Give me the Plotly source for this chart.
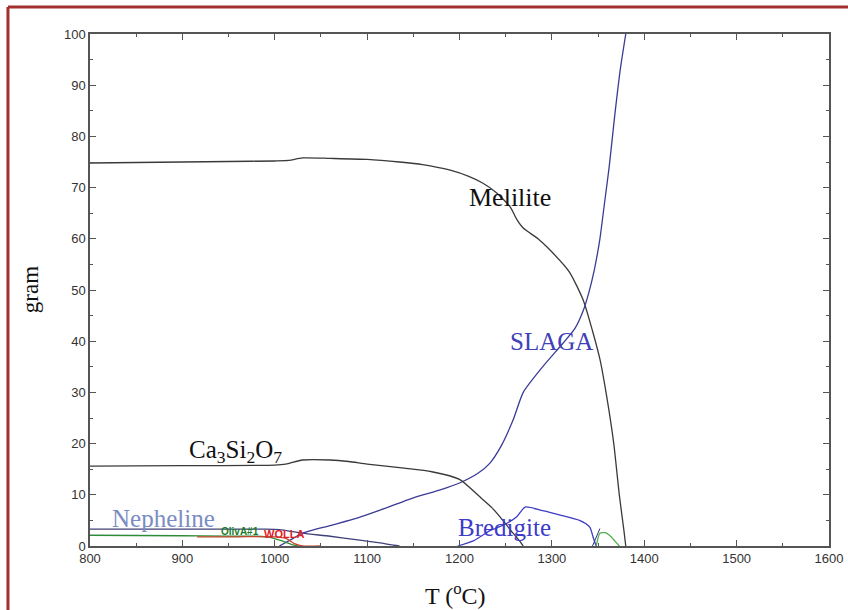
import plotly.graph_objects as go

# Phase amounts (gram) versus temperature (°C)
melilite_T = [800, 850, 900, 950, 1000, 1015, 1030, 1060, 1100, 1135, 1160, 1190, 1210, 1225,
              1240, 1255, 1262, 1269, 1285, 1298, 1319, 1334, 1344, 1352, 1360, 1367, 1373, 1378, 1380]
melilite_g = [74.8, 74.9, 75.0, 75.1, 75.2, 75.3, 75.8, 75.7, 75.5, 75.0, 74.5, 73.4, 72.2, 70.9,
              69.0, 66.2, 63.8, 62.1, 60.0, 57.8, 53.5, 48.0, 42.0, 36.5, 28.5, 20.0, 10.0, 3.0, 0.0]

slaga_T = [1005, 1020, 1030, 1060, 1090, 1114, 1150, 1180, 1200, 1220, 1233, 1245, 1258, 1269,
           1290, 1312, 1325, 1334, 1340, 1346, 1352, 1357, 1362, 1368, 1374, 1380]
slaga_g = [0.0, 1.5, 2.5, 4.0, 5.5, 7.0, 9.4, 11.0, 12.3, 14.2, 16.2, 19.5, 24.6, 30.0,
           35.0, 39.6, 42.5, 46.0, 49.5, 54.0, 60.0, 67.0, 74.0, 84.0, 93.0, 100.0]

ca3si2o7_T = [800, 900, 1000, 1012, 1030, 1060, 1080, 1100, 1140, 1170, 1200, 1222, 1235, 1247, 1258, 1265, 1269]
ca3si2o7_g = [15.6, 15.7, 15.8, 16.0, 16.8, 16.8, 16.5, 16.0, 15.2, 14.5, 13.0, 9.6, 7.5, 5.0, 2.5, 1.0, 0.0]

bredigite_T = [1198, 1215, 1233, 1250, 1262, 1271, 1290, 1310, 1330, 1341, 1345, 1348]
bredigite_g = [0.0, 1.0, 3.0, 4.3, 5.7, 7.6, 6.9, 6.0, 5.0, 3.7, 1.5, 0.0]

nepheline_T = [800, 900, 990, 1005, 1030, 1060, 1090, 1114, 1125, 1135]
nepheline_g = [3.3, 3.3, 3.3, 3.2, 2.5, 1.9, 1.2, 0.6, 0.25, 0.0]

olivine_T = [800, 900, 980, 995, 1008, 1020, 1025]
olivine_g = [2.1, 2.0, 1.9, 1.7, 1.0, 0.2, 0.0]

wolla_T = [916, 960, 1000, 1012, 1022, 1030, 1050]
wolla_g = [1.8, 1.8, 1.8, 1.5, 0.4, 0.0, 0.0]

minor_T = [1348, 1352, 1358, 1364, 1370, 1373]
minor_g = [0.0, 2.5, 2.6, 1.8, 0.6, 0.0]

eps_T = [1344, 1352]
eps_g = [0.0, 3.4]

x_ticks = [800, 900, 1000, 1100, 1200, 1300, 1400, 1500, 1600]
y_ticks = [0, 10, 20, 30, 40, 50, 60, 70, 80, 90, 100]

fig = go.Figure()

def curve(T, g, color, width=1.3, shape="spline"):
    fig.add_trace(go.Scatter(x=T, y=g, mode="lines",
                             line=dict(color=color, width=width, shape=shape, smoothing=0.6),
                             hoverinfo="skip", showlegend=False))

curve(melilite_T, melilite_g, "#3a3a3a")
curve(slaga_T, slaga_g, "#3b3b96")
curve(ca3si2o7_T, ca3si2o7_g, "#3a3a3a")
curve(bredigite_T, bredigite_g, "#3c3cc4")
curve(nepheline_T, nepheline_g, "#40407a")
curve(olivine_T, olivine_g, "#2e8b3a")
curve(wolla_T, wolla_g, "#c0452a")
curve(minor_T, minor_g, "#4caf50")
curve(eps_T, eps_g, "#30307a", 1.0, "linear")

serif = "Liberation Serif, Times New Roman, serif"
sans = "Liberation Sans, Arial, sans-serif"

labels = [
    ("Melilite", 1255, 68.0, "#111111", 26, serif),
    ("SLAGA", 1300, 40.0, "#4040b8", 25, serif),
    ("Ca<sub>3</sub>Si<sub>2</sub>O<sub>7</sub>", 957, 18.4, "#111111", 25, serif),
    ("Nepheline", 880, 5.3, "#7b8cc4", 25, serif),
    ("Bredigite", 1249, 3.7, "#3c3cc8", 25, serif),
    ("<b>OlivA#1</b>", 962, 2.9, "#1a7a2a", 10, sans),
    ("<b>WOLLA</b>", 1010, 2.3, "#e0202a", 11, sans),
]
for text, x, y, color, size, family in labels:
    fig.add_annotation(x=x, y=y, text=text, showarrow=False, xref="x", yref="y",
                       xanchor="center", yanchor="middle",
                       font=dict(family=family, size=size, color=color))

# Axis titles
fig.add_annotation(x=-0.081, y=0.5, xref="paper", yref="paper", text="gram", textangle=-90,
                   xanchor="center", yanchor="middle", showarrow=False,
                   font=dict(family=serif, size=23, color="#111111"))
fig.add_annotation(x=0.494, y=-0.093, xref="paper", yref="paper", text="T (<sup>o</sup>C)",
                   xanchor="center", yanchor="middle", showarrow=False,
                   font=dict(family=serif, size=24, color="#111111"))

# Frame edges along the left and top of the figure
frame = dict(color="#a33030", width=3)
fig.add_shape(type="line", xref="paper", yref="paper", x0=-0.111, y0=1.0527, x1=1.1, y1=1.0527,
              line=frame, layer="above")
fig.add_shape(type="line", xref="paper", yref="paper", x0=-0.111, y0=1.0527, x1=-0.111, y1=-0.2,
              line=frame, layer="above")

axis_common = dict(showline=True, linecolor="#555555", linewidth=1.5, mirror="ticks",
                   ticks="inside", ticklen=6, tickwidth=1, tickcolor="#555555",
                   showgrid=False, zeroline=False, automargin=False,
                   tickfont=dict(family=sans, size=13, color="#333333"))

fig.update_xaxes(range=[800, 1600], tickvals=x_ticks,
                 minor=dict(ticks="inside", ticklen=3, tickcolor="#555555", dtick=50, showgrid=False),
                 **axis_common)
fig.update_yaxes(range=[0, 100], tickvals=y_ticks,
                 minor=dict(ticks="inside", ticklen=3, tickcolor="#555555", dtick=5, showgrid=False),
                 **axis_common)

fig.update_layout(width=848, height=610, margin=dict(l=90, r=19, t=34, b=64),
                  paper_bgcolor="white", plot_bgcolor="white", showlegend=False)

fig.write_html("out.html")
